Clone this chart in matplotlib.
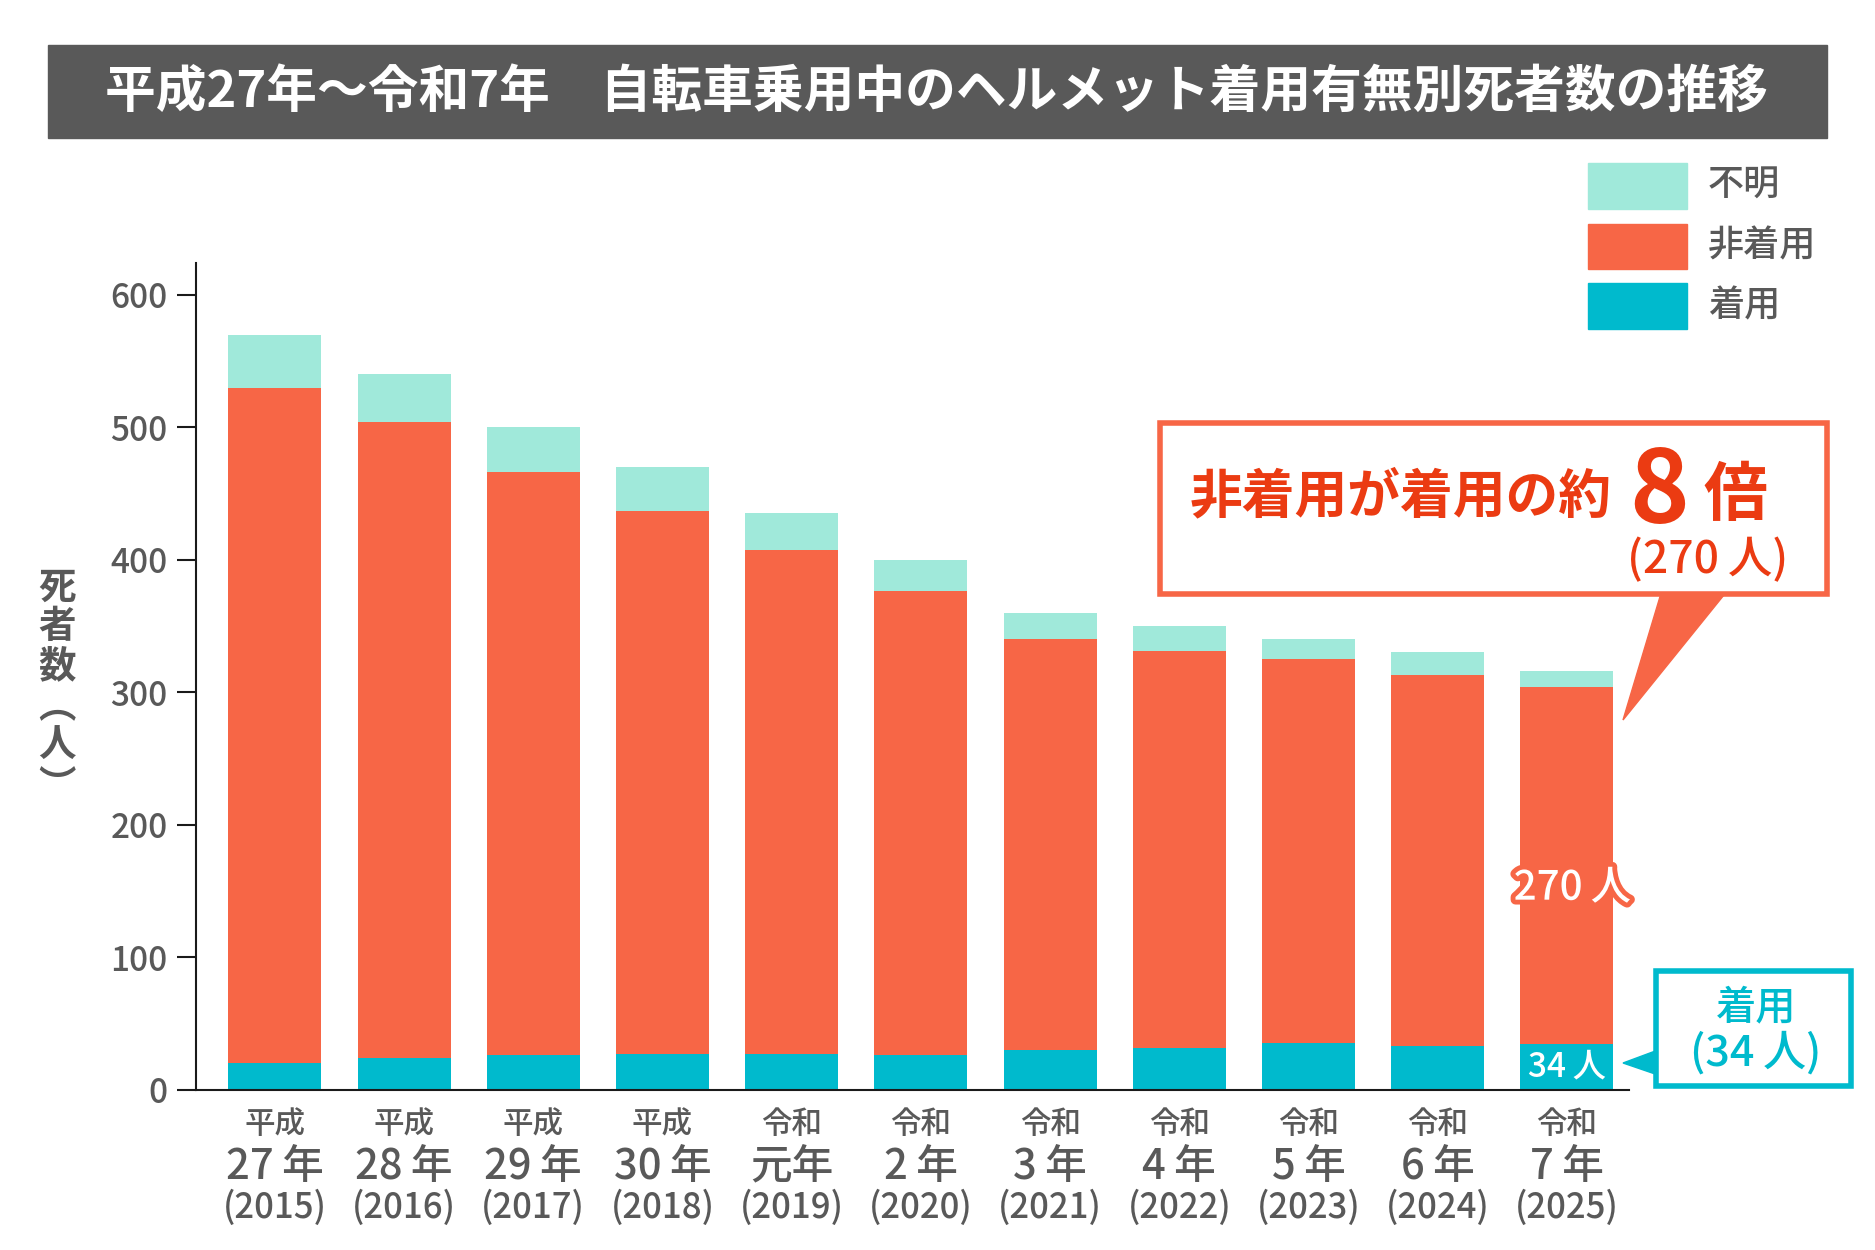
import matplotlib
matplotlib.use('Agg')
import matplotlib.pyplot as plt
import matplotlib.patheffects as pe
import matplotlib.transforms as mtransforms
from matplotlib.patches import Rectangle, Polygon

plt.rcParams['font.family'] = ['Noto Sans CJK JP', 'DejaVu Sans']

# %% data
eras = ['平成', '平成', '平成', '平成', '令和', '令和', '令和', '令和', '令和', '令和', '令和']
era_years = ['27\u2009年', '28\u2009年', '29\u2009年', '30\u2009年', '元年', '2\u2009年', '3\u2009年',
             '4\u2009年', '5\u2009年', '6\u2009年', '7\u2009年']
years = ['(2015)', '(2016)', '(2017)', '(2018)', '(2019)', '(2020)', '(2021)', '(2022)', '(2023)', '(2024)', '(2025)']
helmet = [20, 24, 26, 27, 27, 26, 30, 31, 35, 33, 34]
no_helmet = [510, 480, 440, 410, 380, 350, 310, 300, 290, 280, 270]
unknown = [40, 36, 34, 33, 28, 24, 20, 19, 15, 17, 12]
yticks = [0, 100, 200, 300, 400, 500, 600]
series_names = ['不明', '非着用', '着用']

TEAL = '#00BACD'
ORANGE = '#F76646'
MINT = '#A0E9DA'
GREY = '#595959'
RED = '#EB3B12'

W, H = 1875, 1250
def fx(px): return px / W
def fy(py): return 1 - py / H

# %% figure
fig = plt.figure(figsize=(18.75, 12.5), dpi=100)
ax = fig.add_axes([fx(196), fy(1089.5), fx(1629) - fx(196), fy(263) - fy(1089.5)])

x = list(range(len(helmet)))
mid = [h + n for h, n in zip(helmet, no_helmet)]
ax.bar(x, helmet, width=0.72, color=TEAL, zorder=2)
ax.bar(x, no_helmet, bottom=helmet, width=0.72, color=ORANGE, zorder=2)
ax.bar(x, unknown, bottom=mid, width=0.72, color=MINT, zorder=2)

ax.set_xlim(-0.61, 10.48)
ax.set_ylim(0, 624)
ax.set_yticks(yticks)
ax.set_xticks([])
for s in ['top', 'right']:
    ax.spines[s].set_visible(False)
for s in ['left', 'bottom']:
    ax.spines[s].set_linewidth(1.5)
    ax.spines[s].set_color('#1a1a1a')
ax.tick_params(axis='y', length=13.5, width=1.5, pad=7, labelsize=24, labelcolor=GREY, color='#1a1a1a')
for lab in ax.get_yticklabels():
    lab.set_fontweight('medium')

# x labels, three lines per bar
trans = mtransforms.blended_transform_factory(ax.transData, fig.transFigure)
for i in x:
    ax.text(i, fy(1124), eras[i], transform=trans, ha='center', va='center', fontsize=22,
            color=GREY, fontweight='medium')
    ax.text(i, fy(1166), era_years[i], transform=trans, ha='center', va='center', fontsize=30,
            color=GREY, fontweight='medium')
    ax.text(i, fy(1208), years[i], transform=trans, ha='center', va='center', fontsize=25,
            color=GREY, fontweight='medium')

# y label
fig.text(fx(57), fy(686), '死\n者\n数\n︵\n人\n︶', ha='center', va='center', fontsize=27,
         color=GREY, linespacing=1.02, fontweight='bold')

# title bar
fig.patches.append(Rectangle((fx(48), fy(138)), fx(1827) - fx(48), fy(45) - fy(138),
                             transform=fig.transFigure, color=GREY, zorder=0))
fig.text(fx(936), fy(92), '平成27年～令和7年　自転車乗用中のヘルメット着用有無別死者数の推移',
         ha='center', va='center', fontsize=36.5, color='white', fontweight='bold')

# legend
legend_rows = [(163, 209, MINT), (224, 269, ORANGE), (283, 329, TEAL)]
for (top, bot, c), name in zip(legend_rows, series_names):
    fig.patches.append(Rectangle((fx(1588), fy(bot)), fx(1687) - fx(1588), fy(top) - fy(bot),
                                 transform=fig.transFigure, color=c))
    fig.text(fx(1708), fy((top + bot) / 2), name, ha='left', va='center', fontsize=26,
             color=GREY, fontweight='medium')

# red callout
fig.patches.append(Polygon([(fx(1662), fy(590)), (fx(1728), fy(590)), (fx(1623), fy(720))],
                           closed=True, transform=fig.transFigure, color=ORANGE, zorder=1))
fig.patches.append(Rectangle((fx(1160), fy(594)), fx(1827) - fx(1160), fy(423) - fy(594),
                             transform=fig.transFigure, facecolor='white', edgecolor=ORANGE,
                             linewidth=4, zorder=2))
fig.text(fx(1190), fy(512), '非着用が着用の約', ha='left', va='baseline', fontsize=38,
         color=RED, fontweight='bold', zorder=3)
fig.text(fx(1659), fy(523), '8', ha='center', va='baseline', fontsize=73,
         color=RED, fontweight='bold', zorder=3)
fig.text(fx(1703), fy(515), '倍', ha='left', va='baseline', fontsize=46,
         color=RED, fontweight='bold', zorder=3)
fig.text(fx(1788), fy(560), '(270\u2009人)', ha='right', va='center', fontsize=32,
         color=RED, fontweight='medium', zorder=3)

# teal callout
fig.patches.append(Polygon([(fx(1658), fy(1050)), (fx(1658), fy(1075)), (fx(1623), fy(1063))],
                           closed=True, transform=fig.transFigure, color=TEAL, zorder=1))
fig.patches.append(Rectangle((fx(1656), fy(1086)), fx(1851) - fx(1656), fy(971) - fy(1086),
                             transform=fig.transFigure, facecolor='white', edgecolor=TEAL,
                             linewidth=4, zorder=2))
fig.text(fx(1756), fy(1008), '着用', ha='center', va='center', fontsize=29, color=TEAL,
         fontweight='medium', zorder=3)
fig.text(fx(1756), fy(1053), '(34\u2009人)', ha='center', va='center', fontsize=31, color=TEAL,
         fontweight='medium', zorder=3)

# value labels on last bar
last = len(helmet) - 1
ax.text(last + 0.04, 152, f'{no_helmet[last]}\u2009人', ha='center', va='center', fontsize=29,
        color='white', fontweight='medium', zorder=4, clip_on=False,
        path_effects=[pe.withStroke(linewidth=7, foreground=ORANGE)])
ax.text(last, helmet[last] / 2, f'{helmet[last]}\u2009人', ha='center', va='center', fontsize=24,
        color='white', fontweight='medium', zorder=4)

fig.savefig('out.png', dpi=100)
